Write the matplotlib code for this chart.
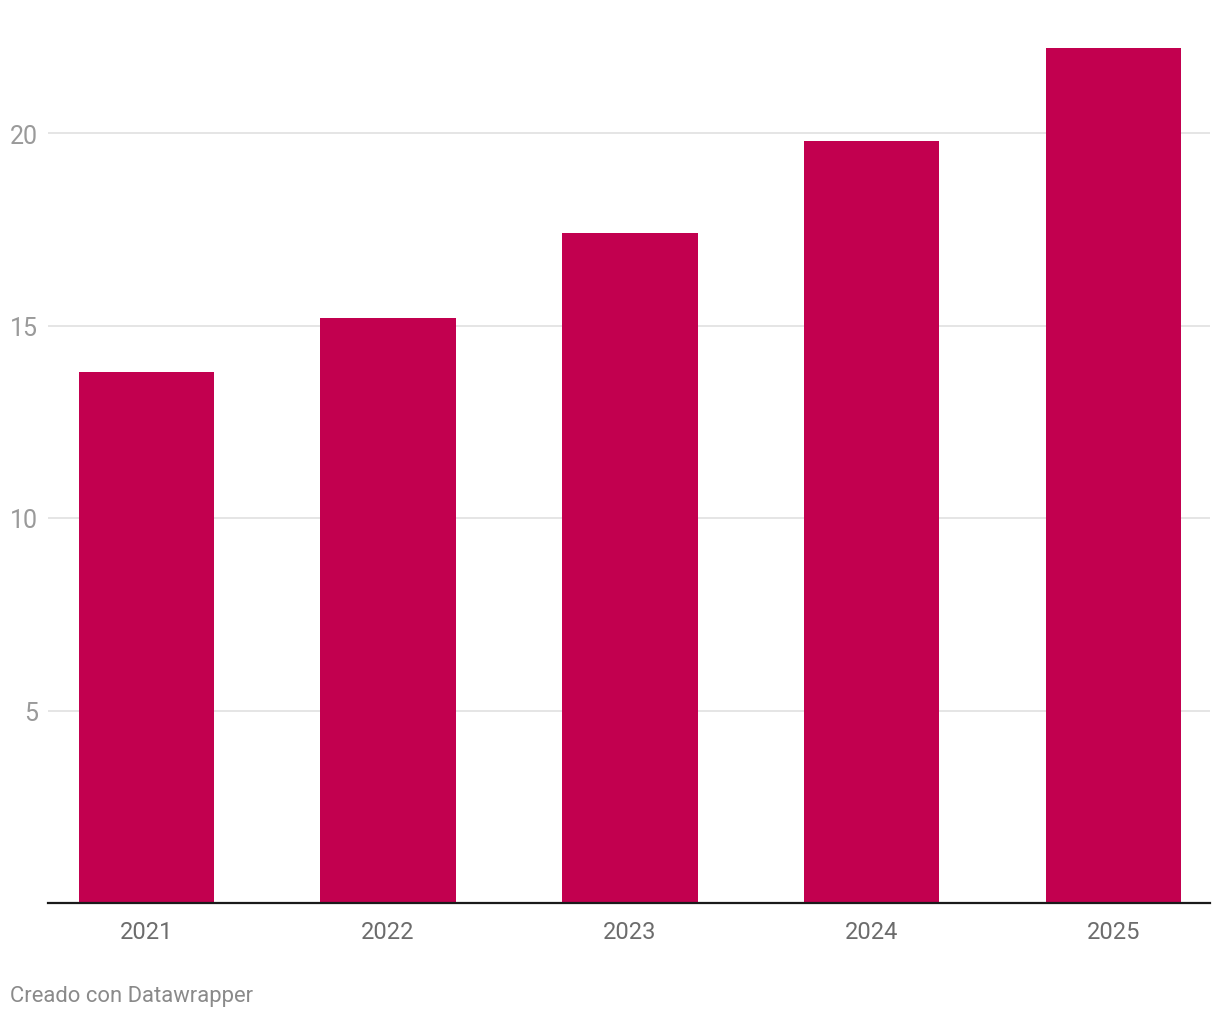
import matplotlib.pyplot as plt

plt.rcParams['font.family'] = ['Roboto', 'DejaVu Sans']

years = ['2021', '2022', '2023', '2024', '2025']
values = [13.8, 15.2, 17.4, 19.8, 22.2]
y_ticks = [5, 10, 15, 20]

W, H = 1220, 1020
fig = plt.figure(figsize=(W / 100, H / 100), dpi=100)

# axes placed in pixel terms to match the reference layout
left, right, bottom, top = 48, 1210, 904, 21
ax = fig.add_axes([left / W, (H - bottom) / H, (right - left) / W, (bottom - top) / H])

x = range(len(years))
ax.bar(x, values, width=0.56, color='#c2004f', zorder=3)

ax.set_xlim(-0.407, 4.40)
ax.set_ylim(0, (bottom - top) / 38.5)

ax.set_yticks(y_ticks)
ax.set_yticklabels([str(t) for t in y_ticks])
ax.set_xticks(list(x))
ax.set_xticklabels(years)

ax.grid(axis='y', color='#e3e3e3', linewidth=1.3, zorder=0)
ax.tick_params(axis='y', length=0, pad=7, labelsize=18, labelcolor='#9a9a9a')
ax.tick_params(axis='x', length=0, pad=12, labelsize=17, labelcolor='#6c6c6c')

for side in ['top', 'right', 'left']:
    ax.spines[side].set_visible(False)
ax.spines['bottom'].set_color('#1a1a1a')
ax.spines['bottom'].set_linewidth(1.6)
ax.spines['bottom'].set_zorder(4)

fig.text(10 / W, 1 - 997 / H, 'Creado con Datawrapper', fontsize=15.8,
         color='#8a8a8a', va='center', ha='left')

fig.savefig('out.png', dpi=100)
